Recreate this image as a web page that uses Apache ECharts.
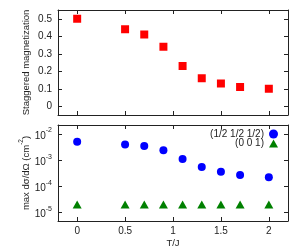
<!DOCTYPE html>
<html><head><meta charset="utf-8">
<script src="https://cdn.jsdelivr.net/npm/echarts@6/dist/echarts.min.js"></script>
<style>html,body{margin:0;padding:0;background:#fff}#c{width:300px;height:250px}</style>
</head><body><div id="c"></div>
<script>
// Data
const temps = [0, 0.5, 0.7, 0.9, 1.1, 1.3, 1.5, 1.7, 2.0];
const staggeredMag = [0.50, 0.44, 0.41, 0.34, 0.23, 0.16, 0.13, 0.11, 0.10];
const crossHalf = [5.0e-3, 4.0e-3, 3.5e-3, 2.4e-3, 1.1e-3, 5.4e-4, 3.6e-4, 2.7e-4, 2.2e-4];
const cross001 = [2e-5, 2e-5, 2e-5, 2e-5, 2e-5, 2e-5, 2e-5, 2e-5, 2e-5];
const xTicks = [0, 0.5, 1, 1.5, 2];
const magTicks = [0, 0.1, 0.2, 0.3, 0.4, 0.5];
const logTicks = [1e-5, 1e-4, 1e-3, 1e-2];
const seriesNames = ['(1/2 1/2 1/2)', '(0 0 1)'];

const pairs = (xs, ys) => xs.map((x, i) => [x, ys[i]]);
const INK = '#222';
const FONT = 'Liberation Sans';
const line = {show: true, onZero: false, lineStyle: {color: INK, width: 1}};
const tick = vals => ({show: true, inside: true, length: 4, customValues: vals, lineStyle: {color: INK, width: 1}});

function xAx(grid, pos, labels) {
  return {
    type: 'value', gridIndex: grid, position: pos, min: -0.2, max: 2.2,
    axisLine: line, axisTick: tick(xTicks), splitLine: {show: false},
    axisLabel: {show: labels, customValues: xTicks, margin: 5, fontSize: 10, fontFamily: FONT, color: INK},
    name: labels ? 'T/J' : '', nameLocation: 'middle', nameGap: 17, nameMoveOverlap: false,
    nameTextStyle: {fontSize: 9.5, fontFamily: FONT, color: INK}
  };
}

const supRich = {
  b: {fontSize: 10, fontFamily: FONT, color: INK, lineHeight: 14, verticalAlign: 'bottom'},
  s: {fontSize: 7, fontFamily: FONT, color: INK, lineHeight: 14, verticalAlign: 'top'}
};
const nameRich = {
  b: {fontSize: 9.5, fontFamily: FONT, color: INK, lineHeight: 13, verticalAlign: 'bottom'},
  s: {fontSize: 6.5, fontFamily: FONT, color: INK, lineHeight: 13, verticalAlign: 'top'}
};

const option = {
  animation: false,
  textStyle: {fontFamily: FONT},
  grid: [
    {left: 58, right: 12, top: 10, height: 105},
    {left: 58, right: 12, top: 125, height: 96}
  ],
  xAxis: [xAx(0, 'bottom', false), xAx(0, 'top', false), xAx(1, 'bottom', true), xAx(1, 'top', false)],
  yAxis: [
    {type: 'value', gridIndex: 0, position: 'left', min: -0.05, max: 0.55,
     axisLine: line, axisTick: tick(magTicks), splitLine: {show: false},
     axisLabel: {customValues: magTicks, margin: 6, fontSize: 10, fontFamily: FONT, color: INK,
                 formatter: v => String(Math.round(v * 10) / 10)},
     name: 'Staggered magnetization', nameLocation: 'middle', nameGap: 27, nameMoveOverlap: false,
     nameTextStyle: {fontSize: 9.5, fontFamily: FONT, color: INK}},
    {type: 'value', gridIndex: 0, position: 'right', min: -0.05, max: 0.55,
     axisLine: line, axisTick: tick(magTicks), splitLine: {show: false}, axisLabel: {show: false}},
    {type: 'log', gridIndex: 1, position: 'left', min: Math.pow(10, -5.333), max: Math.pow(10, -1.655),
     axisLine: line, axisTick: tick(logTicks), splitLine: {show: false},
     axisLabel: {customValues: logTicks, margin: 6, rich: supRich,
                 formatter: v => '{b|10}{s|' + Math.round(Math.log10(v)) + '}'},
     name: '{b|max dσ/dΩ (cm}{s|-2}{b|)}', nameLocation: 'middle', nameGap: 27, nameMoveOverlap: false,
     nameTextStyle: {rich: nameRich}},
    {type: 'log', gridIndex: 1, position: 'right', min: Math.pow(10, -5.333), max: Math.pow(10, -1.655),
     axisLine: line, axisTick: tick(logTicks), splitLine: {show: false}, axisLabel: {show: false}}
  ],
  legend: [
    {data: [{name: seriesNames[0], icon: 'circle'}], right: 22, top: 129, align: 'right', padding: 0,
     itemWidth: 9, itemHeight: 9, textStyle: {fontSize: 10, fontFamily: FONT, color: INK, lineHeight: 10}},
    {data: [{name: seriesNames[1], icon: 'triangle'}], right: 22, top: 138.5, align: 'right', padding: 0,
     itemWidth: 9, itemHeight: 8, textStyle: {fontSize: 10, fontFamily: FONT, color: INK, lineHeight: 10}}
  ],
  series: [
    {name: 'mag', type: 'scatter', xAxisIndex: 0, yAxisIndex: 0, symbol: 'rect', symbolSize: 8,
     itemStyle: {color: '#ff0000', opacity: 1}, data: pairs(temps, staggeredMag)},
    {name: seriesNames[0], type: 'scatter', xAxisIndex: 2, yAxisIndex: 2, symbol: 'circle', symbolSize: 8,
     itemStyle: {color: '#0000ff', opacity: 1}, data: pairs(temps, crossHalf)},
    {name: seriesNames[1], type: 'scatter', xAxisIndex: 2, yAxisIndex: 2, symbol: 'triangle', symbolSize: [9, 8],
     itemStyle: {color: '#008000', opacity: 1}, data: pairs(temps, cross001)}
  ]
};
echarts.init(document.getElementById('c')).setOption(option);
</script></body></html>
